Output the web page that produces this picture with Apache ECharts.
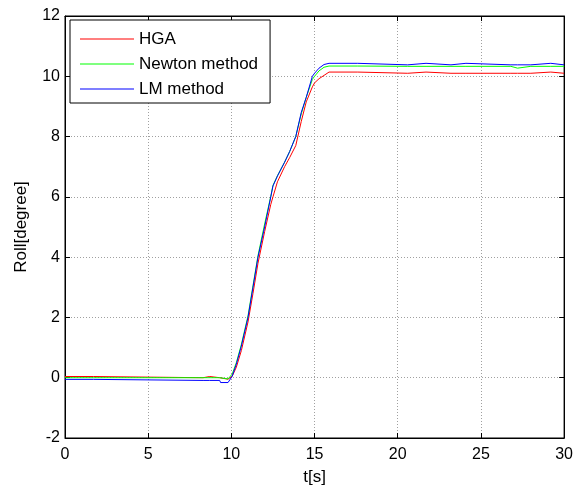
<!DOCTYPE html>
<html>
<head>
<meta charset="utf-8">
<title>Roll response</title>
<script src="https://cdn.jsdelivr.net/npm/echarts@6/dist/echarts.min.js"></script>
<style>
  html, body { margin: 0; padding: 0; background: #fff; }
  #chart { width: 576px; height: 491px; }
</style>
</head>
<body>
<div id="chart"></div>
<script>
// Sample times [s] shared by all three estimates
const timeS = [0, 1.7, 1.75, 8.3, 8.35, 8.7, 8.75, 9.3, 9.35, 9.8, 9.9, 10.05, 10.3, 10.6, 11.0, 11.3, 11.6, 12.0, 12.37, 12.5, 12.77, 13.2, 13.5, 13.87, 14.2, 14.5, 14.87, 15.0, 15.27, 15.57, 15.87, 17.6, 17.65, 20.6, 20.65, 21.7, 21.75, 23.2, 23.25, 24.1, 24.15, 26.8, 26.85, 27.2, 27.25, 28.0, 28.05, 29.2, 29.25, 30];

// Roll angle [degree] for each method
const rollHGA = [0.04, 0.04, 0, 0, 0.04, 0.04, 0, 0, -0.05, -0.05, -0.02, 0.05, 0.35, 0.9, 1.85, 2.8, 3.8, 4.85, 5.75, 6.0, 6.5, 7.0, 7.3, 7.7, 8.5, 9.15, 9.65, 9.78, 9.92, 10.03, 10.14, 10.14, 10.1, 10.1, 10.14, 10.14, 10.1, 10.1, 10.1, 10.1, 10.1, 10.1, 10.1, 10.1, 10.1, 10.1, 10.14, 10.14, 10.1, 10.1];
const rollNewton = [0, 0, 0, 0, 0, 0, 0, 0, -0.04, -0.04, 0, 0.12, 0.5, 1.1, 2.05, 3.05, 4.05, 5.1, 6.02, 6.38, 6.7, 7.15, 7.5, 8.0, 8.75, 9.3, 9.9, 10.0, 10.18, 10.3, 10.34, 10.34, 10.33, 10.33, 10.33, 10.33, 10.33, 10.33, 10.33, 10.33, 10.33, 10.33, 10.27, 10.27, 10.33, 10.33, 10.33, 10.33, 10.33, 10.33];
const rollLM = [-0.055, -0.055, -0.09, -0.09, -0.09, -0.09, -0.09, -0.09, -0.16, -0.16, -0.1, 0.05, 0.45, 1.05, 2.0, 3.0, 4.0, 5.0, 6.0, 6.36, 6.69, 7.15, 7.5, 8.0, 8.8, 9.3, 10.0, 10.1, 10.27, 10.39, 10.43, 10.43, 10.38, 10.38, 10.43, 10.43, 10.38, 10.38, 10.43, 10.43, 10.38, 10.38, 10.38, 10.38, 10.38, 10.38, 10.43, 10.43, 10.38, 10.38];

const seriesNames = ['HGA', 'Newton method', 'LM method'];
const seriesColors = ['#ff0000', '#00ff00', '#0000ff'];
const seriesValues = [rollHGA, rollNewton, rollLM];

const FONT = 'Liberation Sans, Arial, sans-serif';
const txt = { color: '#000', fontFamily: FONT, fontSize: 16 };
const txtBig = { color: '#000', fontFamily: FONT, fontSize: 17 };

const chart = echarts.init(document.getElementById('chart'), null, { renderer: 'canvas' });

const tickIn = { show: true, inside: true, length: 5, lineStyle: { color: '#000', width: 1 } };
const gridDots = { show: true, lineStyle: { color: '#a0a0a0', width: 1, type: [1, 2] } };

chart.setOption({
  animation: false,
  backgroundColor: '#fff',
  grid: { left: 65, right: 10, top: 16, bottom: 50, show: true, borderColor: '#000', borderWidth: 1, backgroundColor: 'transparent' },
  legend: {
    orient: 'vertical',
    left: 70, top: 20,
    padding: [10.5, 12, 5.5, 10],
    icon: 'rect',
    itemWidth: 54, itemHeight: 1, itemGap: 8,
    borderColor: '#000', borderWidth: 1, backgroundColor: '#fff',
    textStyle: Object.assign({}, txtBig, { lineHeight: 17 }),
    data: seriesNames
  },
  xAxis: [{
    type: 'value', min: 0, max: 30, interval: 5,
    name: 't[s]', nameLocation: 'middle', nameGap: 31, nameTextStyle: txtBig,
    axisLine: { show: true, onZero: false, lineStyle: { color: '#000', width: 1 } },
    axisTick: tickIn,
    axisLabel: Object.assign({ margin: 9 }, txt),
    splitLine: gridDots
  }, {
    type: 'value', min: 0, max: 30, interval: 5, position: 'top',
    axisLine: { show: true, onZero: false, lineStyle: { color: '#000', width: 1 } },
    axisTick: tickIn, axisLabel: { show: false }, splitLine: { show: false }
  }],
  yAxis: [{
    type: 'value', min: -2, max: 12, interval: 2,
    name: 'Roll[degree]', nameLocation: 'middle', nameGap: 35, nameRotate: 90, nameTextStyle: txtBig,
    axisLine: { show: true, onZero: false, lineStyle: { color: '#000', width: 1 } },
    axisTick: tickIn,
    axisLabel: Object.assign({ margin: 5 }, txt),
    splitLine: gridDots
  }, {
    type: 'value', min: -2, max: 12, interval: 2, position: 'right',
    axisLine: { show: true, onZero: false, lineStyle: { color: '#000', width: 1 } },
    axisTick: tickIn, axisLabel: { show: false }, splitLine: { show: false }
  }],
  series: seriesNames.map((name, k) => ({
    name: name,
    type: 'line',
    xAxisIndex: 0, yAxisIndex: 0,
    symbol: 'none',
    smooth: false,
    color: seriesColors[k],
    itemStyle: { color: seriesColors[k] },
    lineStyle: { color: seriesColors[k], width: 1 },
    data: timeS.map((t, i) => [t, seriesValues[k][i]])
  }))
});
</script>
</body>
</html>
